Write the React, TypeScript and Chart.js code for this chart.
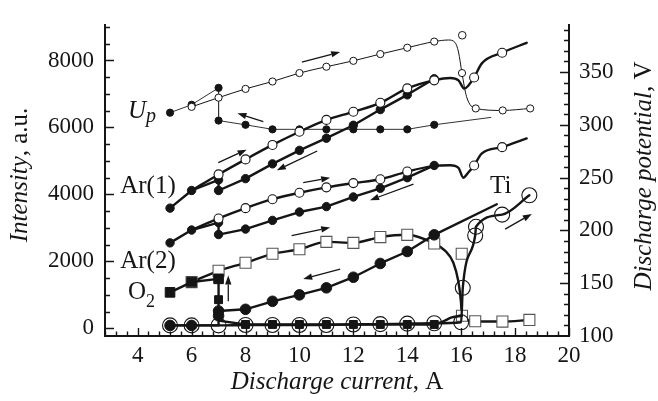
import { useEffect, useRef } from 'react';
import { Chart, registerables } from 'chart.js';

Chart.register(...registerables);

type Pt = [number, number, number?];

const FONT = '"Liberation Serif", "Times New Roman", serif';
const INK = '#151515';

// ---- axis ticks (labels) ----
const xTickLabels = [4, 6, 8, 10, 12, 14, 16, 18, 20];
const yTickLabels = [0, 2000, 4000, 6000, 8000];
const y1TickLabels = [100, 150, 200, 250, 300, 350];

// ---- Discharge potential U_p (right axis, V); third value: 1 = marker, 0 = curve only ----
const upFilled: Pt[] = [[5.2, 311.5], [6, 319], [7, 335], [7, 304], [8, 300], [9, 295.7], [10, 295.7], [11, 295.7], [12, 295.7], [13, 295.7], [14, 295.7], [15, 300], [17.1, 307, 0]];
const upOpen: Pt[] = [[6, 317], [7, 325.7], [8, 334], [9, 341], [10, 349], [11, 355], [12, 360.6], [13, 367], [14, 373], [15, 378.8], [15.53, 380.3, 0], [15.77, 378, 0], [15.9, 369, 0], [16.03, 349], [16.2, 326.6, 0], [16.54, 315.5], [17.54, 313.6], [18.56, 315.5]];
const upLone: Pt[] = [[16.04, 384.8]];

// ---- Ar(1) intensity (left axis) ----
const ar1Init: Pt[] = [[5.2, 3589], [6, 4116], [7, 4432], [7, 4116, 0]];
const ar1Up: Pt[] = [[6, 4116, 0], [7, 4596], [8, 5045], [9, 5477], [10, 5871], [11, 6225], [12, 6467], [13, 6735], [14, 7166], [15, 7406], [15.59, 7474, 0], [15.9, 7405, 0], [16.12, 7158, 0], [16.27, 7253, 0], [16.48, 7492], [16.76, 7906, 0], [17.52, 8231], [18.43, 8527, 0]];
const ar1Down: Pt[] = [[15, 7454], [14, 6973], [13, 6533], [12, 6064], [11, 5678], [10, 5315], [9, 4912], [8, 4470], [7, 4116]];

// ---- Ar(2) ----
const ar2Init: Pt[] = [[5.2, 2552], [6, 2935], [7, 3157], [7, 2800, 0]];
const ar2Up: Pt[] = [[6, 2935, 0], [7, 3281], [8, 3589], [9, 3856], [10, 4049], [11, 4210], [12, 4337], [13, 4452], [14, 4682], [15, 4850, 0], [15.59, 4870, 0], [15.9, 4790, 0], [16.08, 4498, 0], [16.25, 4640, 0], [16.48, 4864], [16.76, 5218, 0], [17.52, 5411], [18.43, 5670, 0]];
const ar2Down: Pt[] = [[15, 4864], [14, 4498], [13, 4182], [12, 3923], [11, 3635], [10, 3473], [9, 3223], [8, 2964], [7, 2800]];

// ---- O2 ----
const o2Init: Pt[] = [[5.2, 1074], [6, 1381], [7, 1477]];
const o2Up: Pt[] = [[6, 1381], [7, 1718], [8, 1957], [9, 2225], [10, 2360], [11, 2581], [12, 2552], [13, 2725], [14, 2792], [15, 2532], [15.4, 2322, 0], [15.71, 1957, 0], [15.9, 1381, 0], [15.99, 806, 0], [16.03, 374], [16.52, 210], [17.53, 201], [18.53, 250]];
const o2Lone: Pt[] = [[16.02, 2225]];
const o2DownCurve: Pt[] = [[15, 115, 0], [15.34, 210, 0], [15.65, 325, 0], [16.03, 374, 0]];
const o2Down: Pt[] = [[15, 115], [14, 115], [13, 115], [12, 115], [11, 115], [10, 115], [9, 115], [8, 115], [7, 230, 0], [7, 855], [7, 1477, 0]];

// ---- Ti ----
const tiUp: Pt[] = [[5.2, 86], [6, 86], [7, 86], [8, 100], [9, 100], [10, 100], [11, 100], [12, 115], [13, 125], [14, 140], [15, 150], [16.0, 181], [16.06, 1209], [16.52, 2772], [16.55, 3031], [17.52, 3396], [18.53, 3972]];
const tiDown: Pt[] = [[17.32, 3704, 0], [15, 2792], [14, 2294], [13, 1937], [12, 1525], [11, 1209], [10, 999], [9, 806], [8, 567], [7, 518], [7, 374], [7, 86, 0], [6, 86], [5.2, 86]];

// ---- arrows (data coordinates) ----
const arrows: { axis: 'y' | 'y1'; from: [number, number]; to: [number, number] }[] = [
  { axis: 'y1', from: [10.09, 359.3], to: [11.51, 369] },
  { axis: 'y1', from: [8.66, 303], to: [7.7, 310.9] },
  { axis: 'y', from: [6.99, 4950], to: [8.04, 5333] },
  { axis: 'y', from: [10.66, 5296], to: [9.16, 4720] },
  { axis: 'y', from: [10.14, 4354], to: [11.14, 4498] },
  { axis: 'y', from: [14.23, 4308], to: [12.62, 3828] },
  { axis: 'y', from: [9.71, 2771], to: [11.14, 3013] },
  { axis: 'y', from: [11.51, 1764], to: [10.14, 1476] },
  { axis: 'y', from: [17.63, 2964], to: [18.62, 3416] },
  { axis: 'y', from: [7.36, 806], to: [7.36, 1574] },
];

// ---- curve labels ----
type Run = { t: string; s: number; i?: boolean; dy?: number };
const curveLabels: { x: number; y: number; runs: Run[] }[] = [
  { x: 3.64, y: 6274, runs: [{ t: 'U', s: 25, i: true }, { t: 'p', s: 20, i: true, dy: 4 }] },
  { x: 3.35, y: 4029, runs: [{ t: 'Ar(1)', s: 25 }] },
  { x: 3.35, y: 1813, runs: [{ t: 'Ar(2)', s: 25 }] },
  { x: 3.64, y: 863, runs: [{ t: 'O', s: 25 }, { t: '2', s: 18, dy: 8 }] },
  { x: 17.07, y: 4029, runs: [{ t: 'Ti', s: 25 }] },
];

function series(points: Pt[], axis: 'y' | 'y1', o: any) {
  return {
    type: 'line',
    data: points.map(([x, y, m = 1]) => ({ x, y, m })),
    yAxisID: axis,
    showLine: o.lw > 0,
    borderColor: o.lc ?? INK,
    borderWidth: o.lw,
    borderJoinStyle: 'round',
    borderCapStyle: 'round',
    fill: false,
    tension: 0,
    cubicInterpolationMode: o.curve ? 'monotone' : 'default',
    pointStyle: o.style ?? 'circle',
    pointRadius: (c: any) => (c.raw && c.raw.m ? o.r : 0),
    pointHoverRadius: (c: any) => (c.raw && c.raw.m ? o.r : 0),
    pointBackgroundColor: o.fill,
    pointBorderColor: o.border ?? INK,
    pointBorderWidth: o.bw ?? 1,
    order: o.order,
  };
}

function runWidth(ctx: CanvasRenderingContext2D, runs: Run[]) {
  let w = 0;
  for (const r of runs) {
    ctx.font = `${r.i ? 'italic ' : ''}${r.s}px ${FONT}`;
    w += ctx.measureText(r.t).width;
  }
  return w;
}
function drawRuns(ctx: CanvasRenderingContext2D, runs: Run[], x: number, y: number) {
  let cx = x;
  for (const r of runs) {
    ctx.font = `${r.i ? 'italic ' : ''}${r.s}px ${FONT}`;
    ctx.fillText(r.t, cx, y + (r.dy ?? 0));
    cx += ctx.measureText(r.t).width;
  }
}

const decor = {
  id: 'decor',
  beforeDatasetsDraw(chart: any) {
    const { ctx, chartArea: a, scales } = chart;
    const { x, y, y1 } = scales;
    ctx.save();
    ctx.strokeStyle = INK;
    ctx.lineWidth = 1.4;
    ctx.beginPath();
    for (let i = 0; i <= 43; i++) {
      const v = 2.8 + i * 0.4;
      const major = xTickLabels.some((t) => Math.abs(t - v) < 1e-6);
      const px = Math.round(x.getPixelForValue(v)) + 0.5;
      ctx.moveTo(px, a.bottom);
      ctx.lineTo(px, a.bottom - (major ? 8 : 4.5));
    }
    for (let v = 0; v <= 9000; v += 500) {
      const major = yTickLabels.includes(v);
      const py = Math.round(y.getPixelForValue(v)) + 0.5;
      ctx.moveTo(a.left, py);
      ctx.lineTo(a.left + (major ? 9 : 5), py);
    }
    for (let v = 110; v <= 390; v += 10) {
      const major = y1TickLabels.includes(v);
      const py = Math.round(y1.getPixelForValue(v)) + 0.5;
      ctx.moveTo(a.right, py);
      ctx.lineTo(a.right - (major ? 9 : 5), py);
    }
    ctx.stroke();
    ctx.restore();
  },
  afterDatasetsDraw(chart: any) {
    const { ctx, chartArea: a, scales } = chart;
    ctx.save();
    ctx.fillStyle = INK;
    ctx.strokeStyle = INK;
    // arrows
    for (const ar of arrows) {
      const ys = scales[ar.axis];
      const x0 = scales.x.getPixelForValue(ar.from[0]);
      const y0 = ys.getPixelForValue(ar.from[1]);
      const x1 = scales.x.getPixelForValue(ar.to[0]);
      const y1 = ys.getPixelForValue(ar.to[1]);
      const ang = Math.atan2(y1 - y0, x1 - x0);
      const hl = 9, hw = 3.2;
      const bx = x1 - hl * Math.cos(ang), by = y1 - hl * Math.sin(ang);
      ctx.lineWidth = 1.3;
      ctx.beginPath();
      ctx.moveTo(x0, y0);
      ctx.lineTo(bx, by);
      ctx.stroke();
      ctx.beginPath();
      ctx.moveTo(x1, y1);
      ctx.lineTo(bx + hw * Math.sin(ang), by - hw * Math.cos(ang));
      ctx.lineTo(bx - hw * Math.sin(ang), by + hw * Math.cos(ang));
      ctx.closePath();
      ctx.fill();
    }
    // curve labels
    ctx.textBaseline = 'alphabetic';
    ctx.textAlign = 'left';
    for (const l of curveLabels) {
      drawRuns(ctx, l.runs, scales.x.getPixelForValue(l.x), scales.y.getPixelForValue(l.y));
    }
    // axis titles
    const xt: Run[] = [{ t: 'Discharge current', s: 25, i: true }, { t: ', A', s: 25 }];
    const cx = (a.left + a.right) / 2;
    drawRuns(ctx, xt, cx - runWidth(ctx, xt) / 2, 389);
    const lt: Run[] = [{ t: 'Intensity', s: 25, i: true }, { t: ', a.u.', s: 25 }];
    ctx.save();
    ctx.translate(27, 175);
    ctx.rotate(-Math.PI / 2);
    drawRuns(ctx, lt, -runWidth(ctx, lt) / 2, 0);
    ctx.restore();
    const rt: Run[] = [{ t: 'Discharge potential', s: 25, i: true }, { t: ', V', s: 25 }];
    ctx.save();
    ctx.translate(651, 176);
    ctx.rotate(-Math.PI / 2);
    drawRuns(ctx, rt, -runWidth(ctx, rt) / 2, 0);
    ctx.restore();
    ctx.restore();
  },
};

function axisOpts(labels: number[], extra: any) {
  return {
    type: 'linear',
    grid: { display: false, drawTicks: false },
    border: { display: true, color: INK, width: 2 },
    afterBuildTicks: (s: any) => {
      s.ticks = labels.map((v) => ({ value: v }));
    },
    ticks: {
      autoSkip: false,
      maxRotation: 0,
      color: INK,
      font: { family: FONT, size: 23 },
      callback: (v: any) => String(v),
    },
    ...extra,
  };
}

export default function App() {
  const ref = useRef<HTMLCanvasElement>(null);
  useEffect(() => {
    const canvas = ref.current!;
    const datasets: any[] = [
      series(o2Down, 'y', { lw: 2.4, style: 'rect', r: 5.6, fill: INK, order: 1 }),
      series(o2DownCurve, 'y', { lw: 2.4, r: 0, fill: INK, curve: true, order: 1 }),
      series(tiDown, 'y', { lw: 2.4, r: 5.3, fill: INK, order: 2 }),
      series(tiUp, 'y', { lw: 2.4, r: 7.5, fill: 'rgba(255,255,255,0)', bw: 1.1, curve: true, order: 3 }),
      series(o2Init, 'y', { lw: 2.4, style: 'rect', r: 6.8, fill: INK, order: 4 }),
      series(o2Up, 'y', { lw: 2.4, style: 'rect', r: 7.8, fill: '#fff', border: '#555', bw: 1.1, curve: true, order: 5 }),
      series(o2Lone, 'y', { lw: 0, style: 'rect', r: 7.8, fill: '#fff', border: '#555', bw: 1.1, order: 5 }),
      series(ar1Up, 'y', { lw: 2.4, r: 4.5, fill: '#fff', bw: 1.1, curve: true, order: 6 }),
      series(ar1Init, 'y', { lw: 2.4, r: 4.2, fill: INK, order: 7 }),
      series(ar1Down, 'y', { lw: 2.4, r: 4.2, fill: INK, order: 7 }),
      series(ar2Up, 'y', { lw: 2.4, r: 4.5, fill: '#fff', bw: 1.1, curve: true, order: 6 }),
      series(ar2Init, 'y', { lw: 2.4, r: 4.2, fill: INK, order: 7 }),
      series(ar2Down, 'y', { lw: 2.4, r: 4.2, fill: INK, order: 7 }),
      series(upOpen, 'y1', { lw: 1, r: 3.6, fill: '#fff', bw: 1, curve: true, order: 8 }),
      series(upLone, 'y1', { lw: 0, r: 3.8, fill: '#fff', bw: 1, order: 8 }),
      series(upFilled, 'y1', { lw: 1, lc: '#333', r: 3.6, fill: INK, order: 9 }),
    ];
    const chart = new Chart(canvas, {
      type: 'line',
      data: { datasets },
      options: {
        animation: false,
        responsive: false,
        maintainAspectRatio: false,
        events: [],
        layout: { padding: { top: 13, left: 0, right: 0, bottom: 0 } },
        plugins: { legend: { display: false }, tooltip: { enabled: false } },
        scales: {
          x: axisOpts(xTickLabels, {
            position: 'bottom',
            min: 2.787,
            max: 20,
            afterFit: (s: any) => { s.height = 65; },
            ticks: { autoSkip: false, maxRotation: 0, color: INK, font: { family: FONT, size: 23 }, padding: 6, callback: (v: any) => String(v) },
          }),
          y: axisOpts(yTickLabels, {
            position: 'left',
            min: -230,
            max: 9065,
            afterFit: (s: any) => { s.width = 105; },
            ticks: { autoSkip: false, color: INK, font: { family: FONT, size: 23 }, padding: 11, callback: (v: any) => String(v) },
          }),
          y1: axisOpts(y1TickLabels, {
            position: 'right',
            min: 100,
            max: 394.7,
            afterFit: (s: any) => { s.width = 89; },
            ticks: { autoSkip: false, color: INK, font: { family: FONT, size: 23 }, padding: 10, callback: (v: any) => String(v) },
          }),
        },
      } as any,
      plugins: [decor],
    } as any);
    return () => chart.destroy();
  }, []);
  return (
    <div style={{ position: 'fixed', left: 0, top: 0, width: 658, height: 401, background: '#fff' }}>
      <canvas ref={ref} width={658} height={401} style={{ display: 'block', width: 658, height: 401 }} />
    </div>
  );
}
